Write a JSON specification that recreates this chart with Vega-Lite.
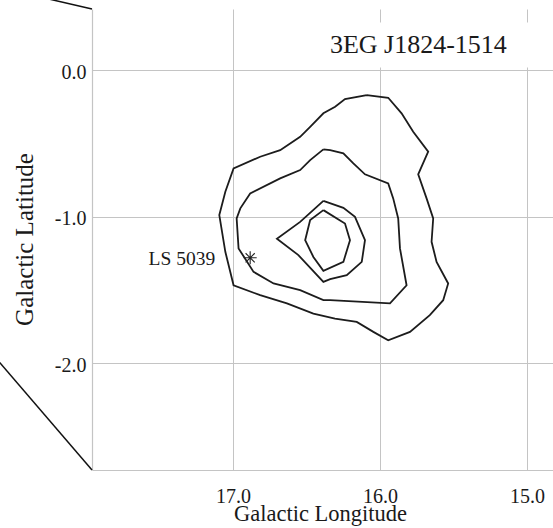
{
  "$schema": "https://vega.github.io/schema/vega-lite/v6.json",
  "width": 461,
  "height": 461,
  "autosize": {"type": "none"},
  "padding": {"left": 92, "top": 9, "right": 0, "bottom": 58},
  "background": "white",
  "config": {
    "view": {"stroke": null},
    "font": "Liberation Serif",
    "axis": {
      "gridColor": "#c4c4c4",
      "gridWidth": 1,
      "domainColor": "#c4c4c4",
      "domainWidth": 1.2,
      "ticks": false,
      "labelFont": "Liberation Serif",
      "labelFontSize": 20,
      "labelColor": "#1a1a1a",
      "titleFont": "Liberation Serif",
      "titleFontWeight": "normal",
      "titleColor": "#1a1a1a"
    }
  },
  "datasets": {
    "contours": [
      {"level": "outer", "i": 1, "lon": 16.090, "lat": -0.171},
      {"level": "outer", "i": 2, "lon": 15.944, "lat": -0.189},
      {"level": "outer", "i": 3, "lon": 15.853, "lat": -0.295},
      {"level": "outer", "i": 4, "lon": 15.774, "lat": -0.421},
      {"level": "outer", "i": 5, "lon": 15.672, "lat": -0.557},
      {"level": "outer", "i": 6, "lon": 15.740, "lat": -0.711},
      {"level": "outer", "i": 7, "lon": 15.683, "lat": -0.875},
      {"level": "outer", "i": 8, "lon": 15.638, "lat": -1.012},
      {"level": "outer", "i": 9, "lon": 15.649, "lat": -1.171},
      {"level": "outer", "i": 10, "lon": 15.615, "lat": -1.308},
      {"level": "outer", "i": 11, "lon": 15.536, "lat": -1.455},
      {"level": "outer", "i": 12, "lon": 15.570, "lat": -1.569},
      {"level": "outer", "i": 13, "lon": 15.661, "lat": -1.671},
      {"level": "outer", "i": 14, "lon": 15.796, "lat": -1.785},
      {"level": "outer", "i": 15, "lon": 15.944, "lat": -1.842},
      {"level": "outer", "i": 16, "lon": 16.045, "lat": -1.785},
      {"level": "outer", "i": 17, "lon": 16.158, "lat": -1.717},
      {"level": "outer", "i": 18, "lon": 16.306, "lat": -1.694},
      {"level": "outer", "i": 19, "lon": 16.453, "lat": -1.660},
      {"level": "outer", "i": 20, "lon": 16.633, "lat": -1.591},
      {"level": "outer", "i": 21, "lon": 16.815, "lat": -1.535},
      {"level": "outer", "i": 22, "lon": 16.996, "lat": -1.467},
      {"level": "outer", "i": 23, "lon": 17.052, "lat": -1.239},
      {"level": "outer", "i": 24, "lon": 17.093, "lat": -0.989},
      {"level": "outer", "i": 25, "lon": 17.052, "lat": -0.830},
      {"level": "outer", "i": 26, "lon": 16.996, "lat": -0.671},
      {"level": "outer", "i": 27, "lon": 16.815, "lat": -0.591},
      {"level": "outer", "i": 28, "lon": 16.679, "lat": -0.546},
      {"level": "outer", "i": 29, "lon": 16.543, "lat": -0.455},
      {"level": "outer", "i": 30, "lon": 16.475, "lat": -0.387},
      {"level": "outer", "i": 31, "lon": 16.385, "lat": -0.295},
      {"level": "outer", "i": 32, "lon": 16.305, "lat": -0.250},
      {"level": "outer", "i": 33, "lon": 16.238, "lat": -0.198},
      {"level": "outer", "i": 34, "lon": 16.090, "lat": -0.171},

      {"level": "second", "i": 1, "lon": 16.385, "lat": -0.541},
      {"level": "second", "i": 2, "lon": 16.339, "lat": -0.546},
      {"level": "second", "i": 3, "lon": 16.249, "lat": -0.568},
      {"level": "second", "i": 4, "lon": 16.181, "lat": -0.636},
      {"level": "second", "i": 5, "lon": 16.102, "lat": -0.711},
      {"level": "second", "i": 6, "lon": 15.944, "lat": -0.773},
      {"level": "second", "i": 7, "lon": 15.910, "lat": -0.875},
      {"level": "second", "i": 8, "lon": 15.876, "lat": -1.012},
      {"level": "second", "i": 9, "lon": 15.864, "lat": -1.216},
      {"level": "second", "i": 10, "lon": 15.819, "lat": -1.467},
      {"level": "second", "i": 11, "lon": 15.932, "lat": -1.591},
      {"level": "second", "i": 12, "lon": 16.339, "lat": -1.569},
      {"level": "second", "i": 13, "lon": 16.385, "lat": -1.569},
      {"level": "second", "i": 14, "lon": 16.543, "lat": -1.501},
      {"level": "second", "i": 15, "lon": 16.724, "lat": -1.455},
      {"level": "second", "i": 16, "lon": 16.860, "lat": -1.376},
      {"level": "second", "i": 17, "lon": 16.962, "lat": -1.216},
      {"level": "second", "i": 18, "lon": 16.975, "lat": -1.012},
      {"level": "second", "i": 19, "lon": 16.950, "lat": -0.943},
      {"level": "second", "i": 20, "lon": 16.883, "lat": -0.841},
      {"level": "second", "i": 21, "lon": 16.679, "lat": -0.739},
      {"level": "second", "i": 22, "lon": 16.543, "lat": -0.682},
      {"level": "second", "i": 23, "lon": 16.475, "lat": -0.614},
      {"level": "second", "i": 24, "lon": 16.385, "lat": -0.541},

      {"level": "third", "i": 1, "lon": 16.385, "lat": -0.892},
      {"level": "third", "i": 2, "lon": 16.249, "lat": -0.939},
      {"level": "third", "i": 3, "lon": 16.170, "lat": -1.001},
      {"level": "third", "i": 4, "lon": 16.102, "lat": -1.160},
      {"level": "third", "i": 5, "lon": 16.124, "lat": -1.308},
      {"level": "third", "i": 6, "lon": 16.226, "lat": -1.398},
      {"level": "third", "i": 7, "lon": 16.339, "lat": -1.426},
      {"level": "third", "i": 8, "lon": 16.385, "lat": -1.444},
      {"level": "third", "i": 9, "lon": 16.555, "lat": -1.262},
      {"level": "third", "i": 10, "lon": 16.701, "lat": -1.150},
      {"level": "third", "i": 11, "lon": 16.543, "lat": -1.035},
      {"level": "third", "i": 12, "lon": 16.385, "lat": -0.892},

      {"level": "inner", "i": 1, "lon": 16.385, "lat": -0.955},
      {"level": "inner", "i": 2, "lon": 16.238, "lat": -1.046},
      {"level": "inner", "i": 3, "lon": 16.204, "lat": -1.160},
      {"level": "inner", "i": 4, "lon": 16.249, "lat": -1.308},
      {"level": "inner", "i": 5, "lon": 16.385, "lat": -1.369},
      {"level": "inner", "i": 6, "lon": 16.453, "lat": -1.274},
      {"level": "inner", "i": 7, "lon": 16.509, "lat": -1.160},
      {"level": "inner", "i": 8, "lon": 16.475, "lat": -1.023},
      {"level": "inner", "i": 9, "lon": 16.385, "lat": -0.955}
    ],
    "leaders": [
      {"side": "upper", "i": 1, "lon": 18.313, "lat": 0.498},
      {"side": "upper", "i": 2, "lon": 17.959, "lat": 0.416},
      {"side": "lower", "i": 1, "lon": 18.619, "lat": -1.956},
      {"side": "lower", "i": 2, "lon": 17.959, "lat": -2.7265}
    ],
    "source": [
      {"name": "3EG J1824-1514", "lon": 15.739, "lat": 0.170}
    ],
    "counterpart": [
      {"name": "LS 5039", "lon": 16.883, "lat": -1.280}
    ]
  },
  "encoding": {
    "x": {
      "field": "lon",
      "type": "quantitative",
      "scale": {"domain": [14.823, 17.959], "reverse": true, "nice": false, "zero": false},
      "axis": {
        "values": [15, 16, 17],
        "labelExpr": "datum.value + '.0'",
        "title": "Galactic Longitude",
        "titleFontSize": 22.5,
        "labelBaseline": "alphabetic",
        "labelPadding": 32,
        "labelFlush": false,
        "labelOverlap": false,
        "titleBaseline": "alphabetic",
        "titleX": 228,
        "titleY": 50.5
      }
    },
    "y": {
      "field": "lat",
      "type": "quantitative",
      "scale": {"domain": [-2.7265, 0.416], "nice": false, "zero": false},
      "axis": {
        "values": [0, -1, -2],
        "labelExpr": "datum.value + '.0'",
        "title": "Galactic Latitude",
        "titleFontSize": 25,
        "labelBaseline": "alphabetic",
        "labelOffset": 8,
        "labelPadding": 6,
        "labelFlush": false,
        "labelOverlap": false,
        "titleBaseline": "alphabetic",
        "titleAlign": "center",
        "titleAngle": -90,
        "titleX": -59.5,
        "titleY": 230
      }
    }
  },
  "layer": [
    {
      "data": {"values": [{}]},
      "mark": {"type": "rule", "color": "#c4c4c4", "strokeWidth": 1.2},
      "encoding": {
        "x": {"datum": 17.959, "type": "quantitative"},
        "x2": {"datum": 14.823},
        "y": {"datum": 0.416, "type": "quantitative"}
      }
    },
    {
      "data": {"name": "leaders"},
      "mark": {"type": "line", "color": "#111111", "strokeWidth": 1.5, "clip": false},
      "encoding": {
        "detail": {"field": "side"},
        "order": {"field": "i"}
      }
    },
    {
      "data": {"name": "contours"},
      "mark": {"type": "line", "color": "#1c1c1c", "strokeWidth": 1.8},
      "encoding": {
        "detail": {"field": "level"},
        "order": {"field": "i"}
      }
    },
    {
      "data": {"name": "source"},
      "mark": {
        "type": "point",
        "shape": "M-1,-0.2L1,-0.2L1,0.2L-1,0.2Z",
        "size": 50625,
        "filled": true,
        "fill": "white",
        "opacity": 1,
        "strokeWidth": 0
      }
    },
    {
      "data": {"name": "source"},
      "mark": {
        "type": "text",
        "fontSize": 26,
        "font": "Liberation Serif",
        "color": "#1a1a1a",
        "align": "center",
        "baseline": "middle"
      },
      "encoding": {"text": {"field": "name"}}
    },
    {
      "data": {"name": "counterpart"},
      "mark": {
        "type": "point",
        "shape": "M0,-1L0,1M-1,0L1,0M-0.7,-0.7L0.7,0.7M-0.7,0.7L0.7,-0.7",
        "size": 170,
        "filled": false,
        "color": "#222222",
        "strokeWidth": 1.1,
        "opacity": 1
      }
    },
    {
      "data": {"name": "counterpart"},
      "mark": {
        "type": "text",
        "fontSize": 19.5,
        "font": "Liberation Serif",
        "color": "#1a1a1a",
        "align": "right",
        "baseline": "alphabetic",
        "dx": -35,
        "dy": 7
      },
      "encoding": {"text": {"field": "name"}}
    }
  ]
}
